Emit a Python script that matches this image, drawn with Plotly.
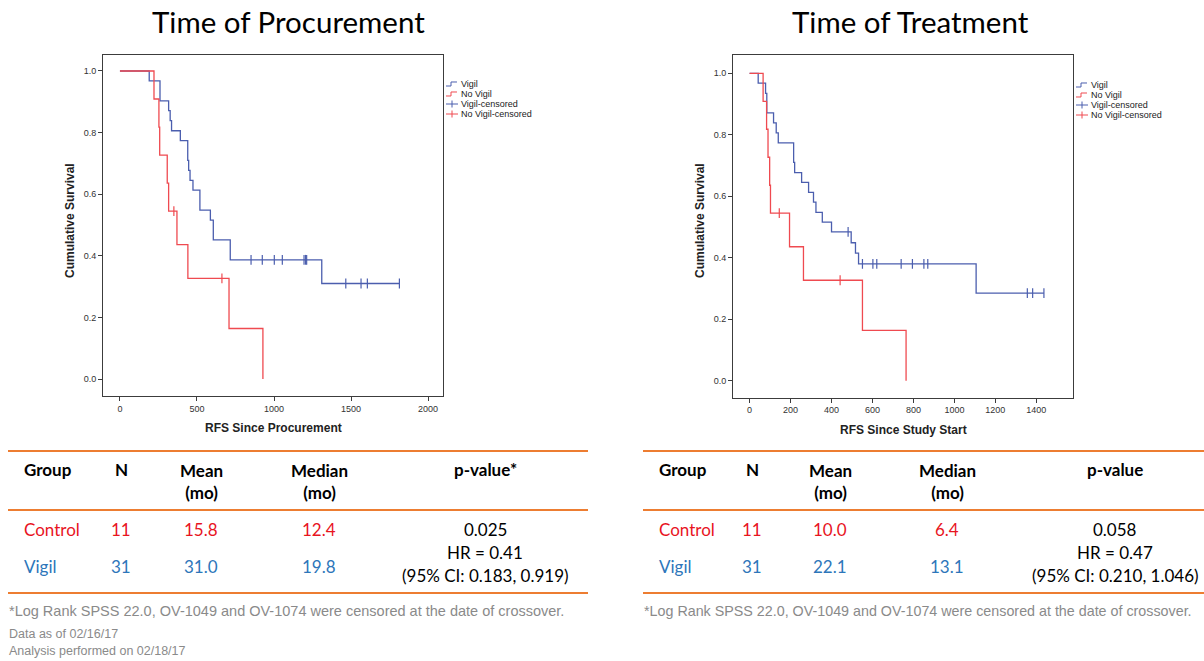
import plotly.graph_objects as go

W, H = 1204, 661

# ---------------- DATA ----------------
# Left: RFS since procurement (days)
proc_vigil_t = [0, 190, 260, 316, 326, 335, 392, 440, 446, 455, 474, 519, 587, 606, 716, 1310, 1814]
proc_vigil_s = [1.0, 0.968, 0.903, 0.871, 0.839, 0.806, 0.774, 0.710, 0.677, 0.645, 0.613, 0.548, 0.516, 0.452, 0.387, 0.310, 0.310]
proc_vigil_cens_t = [851, 924, 1002, 1054, 1195, 1205, 1212, 1466, 1565, 1606, 1814]
proc_vigil_cens_s = [0.387, 0.387, 0.387, 0.387, 0.387, 0.387, 0.387, 0.310, 0.310, 0.310, 0.310]
proc_novigil_t = [0, 221, 253, 258, 307, 316, 370, 441, 708, 928]
proc_novigil_s = [1.0, 0.909, 0.818, 0.727, 0.636, 0.545, 0.436, 0.327, 0.164, 0.0]
proc_novigil_cens_t = [350, 662]
proc_novigil_cens_s = [0.545, 0.327]

# Right: RFS since study start (days)
trt_vigil_t = [0, 42, 78, 84, 117, 130, 140, 215, 220, 254, 288, 312, 324, 355, 400, 496, 517, 532, 1106, 1437]
trt_vigil_s = [1.0, 0.968, 0.935, 0.871, 0.839, 0.806, 0.774, 0.710, 0.677, 0.645, 0.613, 0.581, 0.548, 0.516, 0.484, 0.449, 0.415, 0.380, 0.285, 0.285]
trt_vigil_cens_t = [481, 551, 602, 621, 740, 795, 851, 870, 1356, 1382, 1437]
trt_vigil_cens_s = [0.484, 0.380, 0.380, 0.380, 0.380, 0.380, 0.380, 0.380, 0.285, 0.285, 0.285]
trt_novigil_t = [0, 66, 83, 90, 98, 102, 195, 263, 551, 764]
trt_novigil_s = [1.0, 0.909, 0.818, 0.727, 0.636, 0.545, 0.436, 0.327, 0.164, 0.0]
trt_novigil_cens_t = [145, 442]
trt_novigil_cens_s = [0.545, 0.327]

proc_xticks = [0, 500, 1000, 1500, 2000]
trt_xticks = [0, 200, 400, 600, 800, 1000, 1200, 1400]
y_ticks = [0.0, 0.2, 0.4, 0.6, 0.8, 1.0]
legend_labels = ["Vigil", "No Vigil", "Vigil-censored", "No Vigil-censored"]

# Tables
table_header = ["Group", "N", "Mean<br>(mo)", "Median<br>(mo)"]
groups = ["Control", "Vigil"]
n_values = ["11", "31"]
proc_mean = ["15.8", "31.0"]
proc_median = ["12.4", "19.8"]
proc_p = ["p-value*", "0.025", "HR = 0.41", "(95% CI: 0.183, 0.919)"]
trt_mean = ["10.0", "22.1"]
trt_median = ["6.4", "13.1"]
trt_p = ["p-value", "0.058", "HR = 0.47", "(95% CI: 0.210, 1.046)"]

footnote = "*Log Rank SPSS 22.0, OV-1049 and OV-1074 were censored at the date of crossover."
data_notes = ["Data as of 02/16/17", "Analysis performed on 02/18/17"]
titles = ["Time of Procurement", "Time of Treatment"]
x_titles = ["RFS Since Procurement", "RFS Since Study Start"]
y_title = "Cumulative Survival"

# ---------------- STYLE ----------------
BLUE_LINE = "#4B5EAE"
RED_LINE = "#EF4A50"
RED_TXT = "#E8141E"
BLUE_TXT = "#2D76BA"
ORANGE = "#ED7D31"
GRAY = "#8A8A8A"
AXIS = "#3C3C3C"
ARIAL = "Liberation Sans, Arial, sans-serif"
CAL = "Lato, Calibri, sans-serif"


def px(x):
    return x / W


def py(y):
    return 1 - y / H


fig = go.Figure()


def add_km(t, s, color, xa, ya):
    fig.add_trace(go.Scatter(x=t, y=s, mode="lines", line=dict(color=color, width=1.3, shape="hv"),
                             xaxis=xa, yaxis=ya, showlegend=False, hoverinfo="skip"))


def add_cens(t, s, color, xa, ya):
    fig.add_trace(go.Scatter(x=t, y=s, mode="markers",
                             marker=dict(symbol="line-ns", size=7, line=dict(color=color, width=1.2)),
                             xaxis=xa, yaxis=ya, showlegend=False, hoverinfo="skip"))


add_km(proc_vigil_t, proc_vigil_s, BLUE_LINE, "x", "y")
add_km(proc_novigil_t, proc_novigil_s, RED_LINE, "x", "y")
add_cens(proc_vigil_cens_t, proc_vigil_cens_s, BLUE_LINE, "x", "y")
add_cens(proc_novigil_cens_t, proc_novigil_cens_s, RED_LINE, "x", "y")
add_km(trt_vigil_t, trt_vigil_s, BLUE_LINE, "x2", "y2")
add_km(trt_novigil_t, trt_novigil_s, RED_LINE, "x2", "y2")
add_cens(trt_vigil_cens_t, trt_vigil_cens_s, BLUE_LINE, "x2", "y2")
add_cens(trt_novigil_cens_t, trt_novigil_cens_s, RED_LINE, "x2", "y2")

axis_common = dict(showline=True, mirror=True, linecolor=AXIS, linewidth=1, ticks="outside",
                   ticklen=4, tickcolor=AXIS, tickwidth=1, showgrid=False, zeroline=False,
                   tickfont=dict(family=ARIAL, size=9, color="#333333"))

fig.update_layout(
    width=W, height=H, margin=dict(l=0, r=0, t=0, b=0),
    paper_bgcolor="white", plot_bgcolor="white",
    xaxis=dict(domain=[px(103), px(443)], range=[-110, 2097], tickvals=proc_xticks, anchor="y", **axis_common),
    yaxis=dict(domain=[py(396), py(55)], range=[-0.0552, 1.0519], tickvals=y_ticks, tickformat=".1f",
               anchor="x", **axis_common),
    xaxis2=dict(domain=[px(733), px(1073)], range=[-81, 1579], tickvals=trt_xticks, anchor="y2", **axis_common),
    yaxis2=dict(domain=[py(397.5), py(55)], range=[-0.0543, 1.0595], tickvals=y_ticks, tickformat=".1f",
                anchor="x2", **axis_common),
)

ann = []
shapes = []


def text(x, y, s, size, color="black", family=ARIAL, xanchor="center", bold=False, angle=0):
    ann.append(dict(x=px(x), y=py(y), xref="paper", yref="paper", text=("<b>%s</b>" % s) if bold else s,
                    showarrow=False, xanchor=xanchor, yanchor="middle", textangle=angle,
                    font=dict(family=family, size=size, color=color)))


def hline(x0, x1, y, color, width):
    shapes.append(dict(type="line", xref="paper", yref="paper", x0=px(x0), x1=px(x1), y0=py(y), y1=py(y),
                       line=dict(color=color, width=width)))


# titles
text(288, 22, titles[0], 29.5, family=CAL)
text(910, 22, titles[1], 29.5, family=CAL)

# axis titles
text(273, 428, x_titles[0], 12, color="#222222", bold=True)
text(903, 430, x_titles[1], 12, color="#222222", bold=True)
text(70, 221, y_title, 12, color="#222222", bold=True, angle=-90)
text(700, 221, y_title, 12, color="#222222", bold=True, angle=-90)


# legends
def legend(x0, y0):
    colors = [BLUE_LINE, RED_LINE, BLUE_LINE, RED_LINE]
    for i, (lab, c) in enumerate(zip(legend_labels, colors)):
        y = y0 + 10 * i
        if i < 2:
            path = "M %f %f L %f %f L %f %f L %f %f" % (
                px(x0), py(y + 2), px(x0 + 5), py(y + 2), px(x0 + 5), py(y - 2), px(x0 + 11), py(y - 2))
            shapes.append(dict(type="path", xref="paper", yref="paper", path=path,
                               line=dict(color=c, width=1)))
        else:
            hline(x0, x0 + 12, y, c, 1)
            shapes.append(dict(type="line", xref="paper", yref="paper", x0=px(x0 + 6), x1=px(x0 + 6),
                               y0=py(y - 3.5), y1=py(y + 3.5), line=dict(color=c, width=1)))
        text(x0 + 13, y, lab, 9, color="#222222", xanchor="left")


legend(446, 84)
legend(1076, 85)


# tables
def table(xl, xr, cols, mean, median, pvals):
    hline(xl, xr, 451, ORANGE, 2)
    hline(xl, xr, 510, ORANGE, 2)
    hline(xl, xr, 593, ORANGE, 2)
    gx, nx, mx, mdx, ppx = cols
    text(gx, 470, table_header[0], 17, family=CAL, bold=True, xanchor="left")
    text(nx, 470, table_header[1], 17, family=CAL, bold=True)
    text(mx, 481, table_header[2], 17, family=CAL, bold=True)
    text(mdx, 481, table_header[3], 17, family=CAL, bold=True)
    text(ppx, 470, pvals[0], 17, family=CAL, bold=True)
    for i, yy in enumerate([529, 566]):
        c = RED_TXT if i == 0 else BLUE_TXT
        text(gx, yy, groups[i], 17, color=c, family=CAL, xanchor="left")
        text(nx, yy, n_values[i], 17, color=c, family=CAL)
        text(mx, yy, mean[i], 17, color=c, family=CAL)
        text(mdx, yy, median[i], 17, color=c, family=CAL)
    text(ppx, 529, pvals[1], 17, family=CAL)
    text(ppx, 552, pvals[2], 17, family=CAL)
    text(ppx, 575, pvals[3], 17, family=CAL)


table(8, 588, (22, 121, 201, 319, 485), proc_mean, proc_median, proc_p)
table(643, 1204, (657, 752, 830, 947, 1115), trt_mean, trt_median, trt_p)

text(7, 611, footnote, 14.5, color=GRAY, xanchor="left")
text(642, 611, footnote, 14.3, color=GRAY, xanchor="left")
text(7, 634, data_notes[0], 12.5, color=GRAY, xanchor="left")
text(7, 651, data_notes[1], 12.5, color=GRAY, xanchor="left")

fig.update_layout(annotations=ann, shapes=shapes)
fig.write_html("out.html")
